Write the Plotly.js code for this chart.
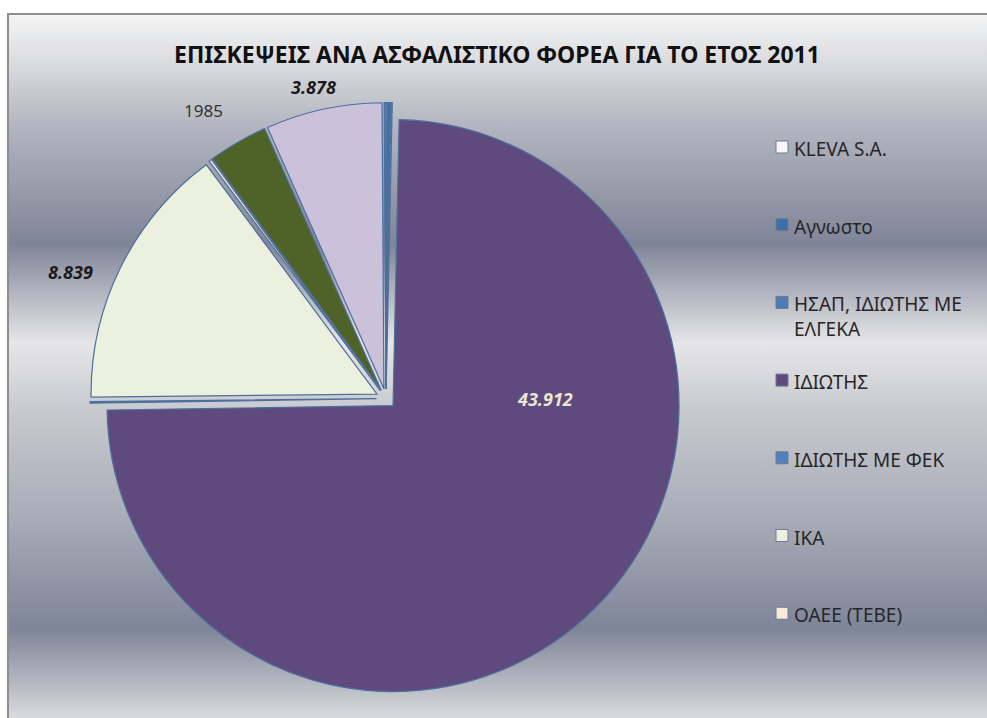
<!DOCTYPE html>
<html>
<head>
<meta charset="utf-8">
<script src="https://cdn.plot.ly/plotly-3.0.1.min.js"></script>
<style>
  html, body { margin: 0; padding: 0; background: #ffffff; }
  #frame {
    position: absolute; left: 7px; top: 13px; width: 990px; height: 720px;
    border-left: 2px solid #8e8e8e; border-top: 2px solid #8e8e8e;
    background: linear-gradient(to bottom,
      #f4f4f5 0px, #dcdde0 45px, #b3b6c0 110px, #7f8598 229px,
      #e6e6e8 328px, #c6c8ce 400px, #a9adb8 500px, #7f8599 614px,
      #b7bac3 670px, #dcdde0 705px);
  }
  #chart { position: absolute; left: 0; top: 0; width: 987px; height: 718px; }
</style>
</head>
<body>
<div id="frame"></div>
<div id="chart"></div>
<script>
// ---- data ----
const categories = ['KLEVA S.A.', 'Αγνωστο', 'ΗΣΑΠ, ΙΔΙΩΤΗΣ ΜΕ ΕΛΓΕΚΑ', 'ΙΔΙΩΤΗΣ',
                    'ΙΔΙΩΤΗΣ ΜΕ ΦΕΚ', 'ΙΚΑ', 'ΟΑΕΕ (ΤΕΒΕ)', 'Σειρά 8', 'Σειρά 9', 'Σειρά 10'];
const visits = [50, 80, 70, 43912, 50, 8839, 90, 1985, 3878, 60];
const sliceColors = ['#f7f7f7', '#3f6fa6', '#4a7cb8', '#5f4a7d', '#4f81bd',
                     '#ebf1de', '#fde9d9', '#4f6228', '#ccc1da', '#4f81bd'];
const legendCount = 7;            // entries that the original legend lists
const labelledSlices = [3, 5, 7, 8];
const plainNumberSlices = [7];    // shown without a thousands separator
const titleText = 'ΕΠΙΣΚΕΨΕΙΣ ΑΝΑ ΑΣΦΑΛΙΣΤΙΚΟ ΦΟΡΕΑ ΓΙΑ ΤΟ ΕΤΟΣ 2011';

// ---- helpers ----
const W = 987, H = 718;
const px = x => x / W;
const py = y => 1 - y / H;
function fmt(v, plain) {
  if (plain) return String(v);
  return String(v).replace(/\B(?=(\d{3})+(?!\d))/g, '.');
}
function wrap(s, max) {
  if (s.length <= max) return s;
  const cut = s.lastIndexOf(' ', max);
  return s.slice(0, cut) + '<br>' + s.slice(cut + 1);
}

const pie = {
  type: 'pie',
  labels: categories,
  values: visits,
  sort: false,
  direction: 'clockwise',
  rotation: 0,
  pull: visits.map(() => 0.035),
  marker: { colors: sliceColors, line: { color: '#4d6f9c', width: 1.2 } },
  textinfo: 'none',
  hoverinfo: 'label+value',
  domain: { x: [px(90), px(682)], y: [py(695), py(102)] },
  showlegend: false
};

const annotations = [];
const shapes = [];

// value labels
const labelPos = { 3: [545, 399, '#ece6d2', true, 18], 5: [70, 272, '#1a1a1a', true, 18],
                   7: [203, 110, '#333333', false, 17], 8: [313, 87, '#1a1a1a', true, 18] };
labelledSlices.forEach(i => {
  const p = labelPos[i];
  const txt = fmt(visits[i], plainNumberSlices.includes(i));
  annotations.push({
    xref: 'paper', yref: 'paper', x: px(p[0]), y: py(p[1]), xanchor: 'center', yanchor: 'middle',
    showarrow: false,
    text: p[3] ? '<b><i>' + txt + '</i></b>' : txt,
    font: { family: 'Noto Sans, DejaVu Sans, sans-serif', size: p[4], color: p[2] }
  });
});

// legend (the original shows only the first entries)
const rowTop = 147, rowStep = 77.7;
for (let i = 0; i < legendCount; i++) {
  const y = rowTop + i * rowStep;
  shapes.push({
    type: 'rect', xref: 'paper', yref: 'paper',
    x0: px(776), x1: px(788), y0: py(y + 6), y1: py(y - 6),
    fillcolor: sliceColors[i], line: { color: '#6f7b8e', width: 1 }
  });
  const t = wrap(categories[i], 18);
  annotations.push({
    xref: 'paper', yref: 'paper', x: px(792), y: py(y - 13), xanchor: 'left', yanchor: 'top',
    showarrow: false, align: 'left', text: t,
    font: { family: 'Noto Sans, DejaVu Sans, sans-serif', size: 19, color: '#262626' }
  });
}

const layout = {
  width: W, height: H,
  margin: { l: 0, r: 0, t: 0, b: 0 },
  paper_bgcolor: 'rgba(0,0,0,0)',
  plot_bgcolor: 'rgba(0,0,0,0)',
  separators: ',.',
  title: {
    text: '<b>' + titleText + '</b>',
    x: px(497), xanchor: 'center', y: py(55), yanchor: 'middle',
    font: { family: 'Liberation Sans Narrow, Noto Sans, sans-serif', size: 23, color: '#111111' }
  },
  annotations: annotations,
  shapes: shapes,
  showlegend: false
};

Plotly.newPlot('chart', [pie], layout, { displayModeBar: false, staticPlot: true });
</script>
</body>
</html>
